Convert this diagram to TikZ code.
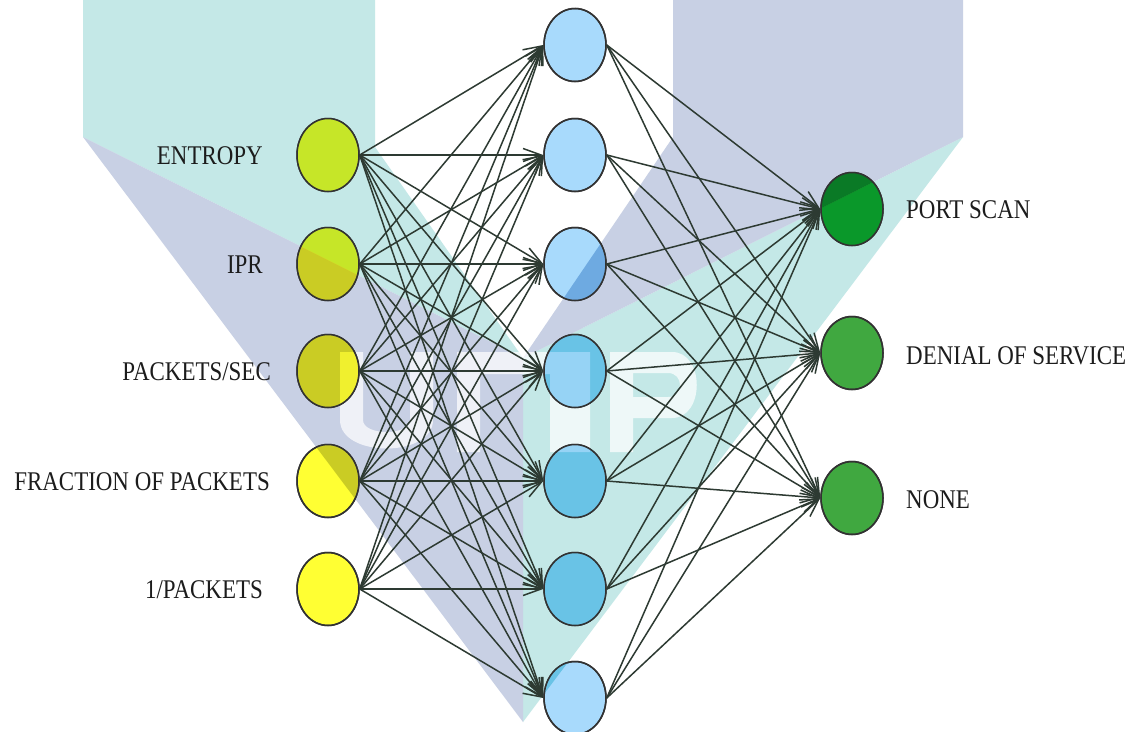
\documentclass[tikz,border=0pt]{standalone}
\usepackage{graphicx}
\usepackage{fontspec}
\setmainfont{Liberation Serif}
\usetikzlibrary{shapes.geometric,arrows.meta}
\definecolor{wmteal}{RGB}{196,232,231}
\definecolor{wmlav}{RGB}{200,208,228}
\definecolor{inbase}{RGB}{255,255,51}
\definecolor{inteal}{RGB}{198,230,40}
\definecolor{inlav}{RGB}{202,204,36}
\definecolor{hidbase}{RGB}{168,218,252}
\definecolor{hidteal}{RGB}{105,195,230}
\definecolor{hidlav}{RGB}{110,170,225}
\definecolor{outbase}{RGB}{64,168,64}
\definecolor{outteal}{RGB}{10,152,42}
\definecolor{outlav}{RGB}{10,122,38}
\definecolor{edgec}{RGB}{45,58,50}
\definecolor{rimc}{RGB}{50,50,50}
\definecolor{txtc}{RGB}{28,28,28}
% watermark regions (pixel coordinates, y downwards)
\def\wmTL{(83,0) -- (375,0) -- (375,147) -- (523,358) -- (83,137) -- cycle}
\def\wmLL{(83,137) -- (523,358) -- (523,722) -- cycle}
\def\wmRT{(963,137) -- (523,358) -- (523,722) -- cycle}
\def\wmRL{(673,0) -- (963,0) -- (963,137) -- (523,358) -- (673,137) -- cycle}
\newcommand\wmletters[1]{%
  \fill[#1] (340,352) rectangle (363,420) (410,352) rectangle (433,420)
    (340,420) .. controls (340,458) and (433,458) .. (433,420) -- (410,420)
    .. controls (410,436) and (363,436) .. (363,420) -- cycle;
  \fill[#1] (457,352) rectangle (590,374) (457,374) rectangle (480,452) (550,374) rectangle (590,452);
  \fill[#1] (610,352) rectangle (633,452)
    (633,352) -- (672,352) .. controls (705,352) and (705,418) .. (672,418) -- (633,418)
    -- (633,397) -- (668,397) .. controls (684,397) and (684,373) .. (668,373) -- (633,373) -- cycle;
}
\newcommand\tintnode[4]{% node, base, teal tint, lavender tint
  \begin{scope}
    \clip (#1.center) ellipse [x radius=31pt, y radius=36.5pt];
    \fill[#3] \wmTL; \fill[#3] \wmRT;
    \fill[#4] \wmLL; \fill[#4] \wmRL;
    \wmletters{#2,opacity=0.72}
  \end{scope}
  \draw[rimc, line width=1.5pt] (#1.center) ellipse [x radius=31pt, y radius=36.5pt];
}
\begin{document}
\begin{tikzpicture}[x=1pt,y=-1pt,
  neuron/.style={ellipse, draw=rimc, line width=1.5pt, inner sep=0pt,
    minimum width=62pt, minimum height=73pt},
  inneuron/.style={neuron, fill=inbase},
  hidneuron/.style={neuron, fill=hidbase},
  outneuron/.style={neuron, fill=outbase},
  conn/.style={draw=edgec, line width=1.5pt, -{Straight Barb[length=18pt,width=13pt]}},
  lbl/.style={text=txtc, inner sep=0pt, font=\fontsize{27}{30}\selectfont},
  inlabel/.style={lbl, anchor=base east},
  outlabel/.style={lbl, anchor=base west}]
\useasboundingbox (0,0) rectangle (1140,731);
\clip (0,0) rectangle (1140,731);
\fill[white] (0,0) rectangle (1140,731);
% watermark
\fill[wmteal] \wmTL; \fill[wmteal] \wmRT;
\fill[wmlav] \wmLL; \fill[wmlav] \wmRL;
\wmletters{white,opacity=0.72}
% nodes
\node[inneuron] (i1) at (328,155) {};
\node[inneuron] (i2) at (328,264) {};
\node[inneuron] (i3) at (328,371) {};
\node[inneuron] (i4) at (328,481) {};
\node[inneuron] (i5) at (328,589) {};
\node[hidneuron] (h1) at (575,45) {};
\node[hidneuron] (h2) at (575,155) {};
\node[hidneuron] (h3) at (575,264) {};
\node[hidneuron] (h4) at (575,371) {};
\node[hidneuron] (h5) at (575,481) {};
\node[hidneuron] (h6) at (575,589) {};
\node[hidneuron] (h7) at (575,698) {};
\node[outneuron] (o1) at (852,209) {};
\node[outneuron] (o2) at (852,353) {};
\node[outneuron] (o3) at (852,498) {};
\foreach \n in {i1,i2,i3,i4,i5} {\tintnode{\n}{inbase}{inteal}{inlav}}
\foreach \n in {h1,h2,h3,h4,h5,h6,h7} {\tintnode{\n}{hidbase}{hidteal}{hidlav}}
\foreach \n in {o1,o2,o3} {\tintnode{\n}{outbase}{outteal}{outlav}}
% connectors
\foreach \i in {1,...,5} {\foreach \j in {1,...,7} {\draw[conn] (i\i.east) -- (h\j.west);}}
\foreach \j in {1,...,7} {\foreach \k in {1,2,3} {\draw[conn] (h\j.east) -- (o\k.west);}}
% labels
\node[inlabel] (l1) at (263,164) {\scalebox{0.85}[1]{ENTROPY}};
\node[inlabel] (l2) at (263,273) {\scalebox{0.85}[1]{IPR}};
\node[inlabel] (l3) at (271,380) {\scalebox{0.85}[1]{PACKETS/SEC}};
\node[inlabel] (l4) at (270,490) {\scalebox{0.85}[1]{FRACTION OF PACKETS}};
\node[inlabel] (l5) at (263,598) {\scalebox{0.85}[1]{1/PACKETS}};
\node[outlabel] (r1) at (906,218) {\scalebox{0.85}[1]{PORT SCAN}};
\node[outlabel] (r2) at (906,364) {\scalebox{0.85}[1]{DENIAL OF SERVICE}};
\node[outlabel] (r3) at (906,508) {\scalebox{0.85}[1]{NONE}};
\end{tikzpicture}
\end{document}
